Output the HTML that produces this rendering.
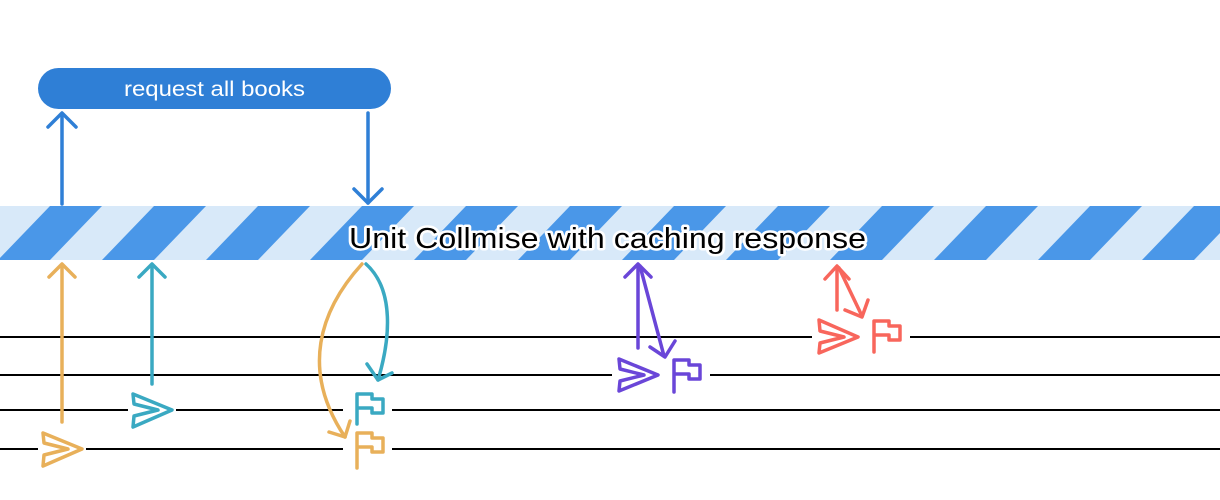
<!DOCTYPE html>
<html><head><meta charset="utf-8"><style>
html,body{margin:0;padding:0;background:#fff;width:1220px;height:500px;overflow:hidden}
svg{display:block}
</style></head><body>
<svg width="1220" height="500" viewBox="0 0 1220 500" xmlns="http://www.w3.org/2000/svg">
<defs>
<pattern id="stripes" patternUnits="userSpaceOnUse" width="104" height="54" x="-2" y="206">
<rect width="104" height="54" fill="#d8e9f9"/>
<polygon points="0,54 52,0 104,0 52,54" fill="#4a97e8"/>
<polygon points="104,54 156,0 208,0 156,54" fill="#4a97e8"/>
</pattern>
</defs>
<g>
<rect x="38" y="68" width="353" height="41" rx="20.5" fill="#2f7fd6"/>
<text x="124" y="96" textLength="181" lengthAdjust="spacingAndGlyphs" font-family="Liberation Sans, sans-serif" font-size="21" fill="#fff">request all books</text>
</g>
<g stroke="#2f7fd6" stroke-width="3.5" fill="none" stroke-linecap="round" stroke-linejoin="round">
<line x1="62" y1="204" x2="62" y2="114"/><polyline points="48,127 62,113 76,127"/>
<line x1="368" y1="113" x2="368" y2="203"/><polyline points="354,189 368,203 382,189"/>
</g>
<rect x="0" y="206" width="1220" height="54" fill="url(#stripes)"/>
<text x="349" y="248" textLength="517" lengthAdjust="spacingAndGlyphs" font-family="Liberation Sans, sans-serif" font-size="29" fill="#000" stroke="#fff" stroke-width="5" paint-order="stroke" stroke-linejoin="round">Unit Collmise with caching response</text>
<g stroke="#000" stroke-width="2">
<line x1="0" y1="337" x2="812" y2="337"/><line x1="910" y1="337" x2="1220" y2="337"/>
<line x1="0" y1="375" x2="612" y2="375"/><line x1="710" y1="375" x2="1220" y2="375"/>
<line x1="0" y1="410" x2="128" y2="410"/><line x1="176" y1="410" x2="343" y2="410"/><line x1="392" y1="410" x2="1220" y2="410"/>
<line x1="0" y1="449" x2="38" y2="449"/><line x1="86" y1="449" x2="343" y2="449"/><line x1="392" y1="449" x2="1220" y2="449"/>
</g>
<g fill="none" stroke-width="3.5" stroke-linecap="round" stroke-linejoin="round">
<g stroke="#e8b05a">
<line x1="62" y1="422" x2="62" y2="265"/><polyline points="49,277 62,264 75,277"/>
<path d="M362,264 C320,310 300,370 345,437"/><polyline points="329,432 345,437 350,421"/>
<polygon points="43,433 82,449 43,466 44,455 68,449 44,443"/>
<path d="M357,468 V433 H372 V438 H383 V452 H372 V447 H357"/>
</g>
<g stroke="#3aa9c2">
<line x1="152" y1="384" x2="152" y2="265"/><polyline points="139,277 152,264 165,277"/>
<path d="M366,264 C395,290 390,340 378,380"/><polyline points="367,364 378,380 392,373"/>
<polygon points="133,394 172,410 133,427 134,416 158,410 134,404"/>
<path d="M357,424 V394 H372 V399 H383 V413 H372 V408 H357"/>
</g>
<g stroke="#6a46d8">
<line x1="638" y1="348" x2="638" y2="265"/><polyline points="625,277 638,264 651,277"/>
<line x1="640" y1="266" x2="664" y2="356"/><polyline points="650,347 665,357 675,341"/>
<polygon points="619,359 658,375 619,391 620,381 644,375 620,369"/>
<path d="M674,392 V360 H689 V365 H700 V379 H689 V374 H674"/>
</g>
<g stroke="#f8665c">
<line x1="837" y1="310" x2="837" y2="267"/><polyline points="825,279 837,266 849,279"/>
<line x1="839" y1="268" x2="862" y2="316"/><polyline points="845,310 862,317 868,300"/>
<polygon points="819,320 858,337 819,353 820,343 844,337 820,331"/>
<path d="M874,352 V321 H889 V326 H900 V340 H889 V335 H874"/>
</g>
</g>
</svg>
</body></html>
